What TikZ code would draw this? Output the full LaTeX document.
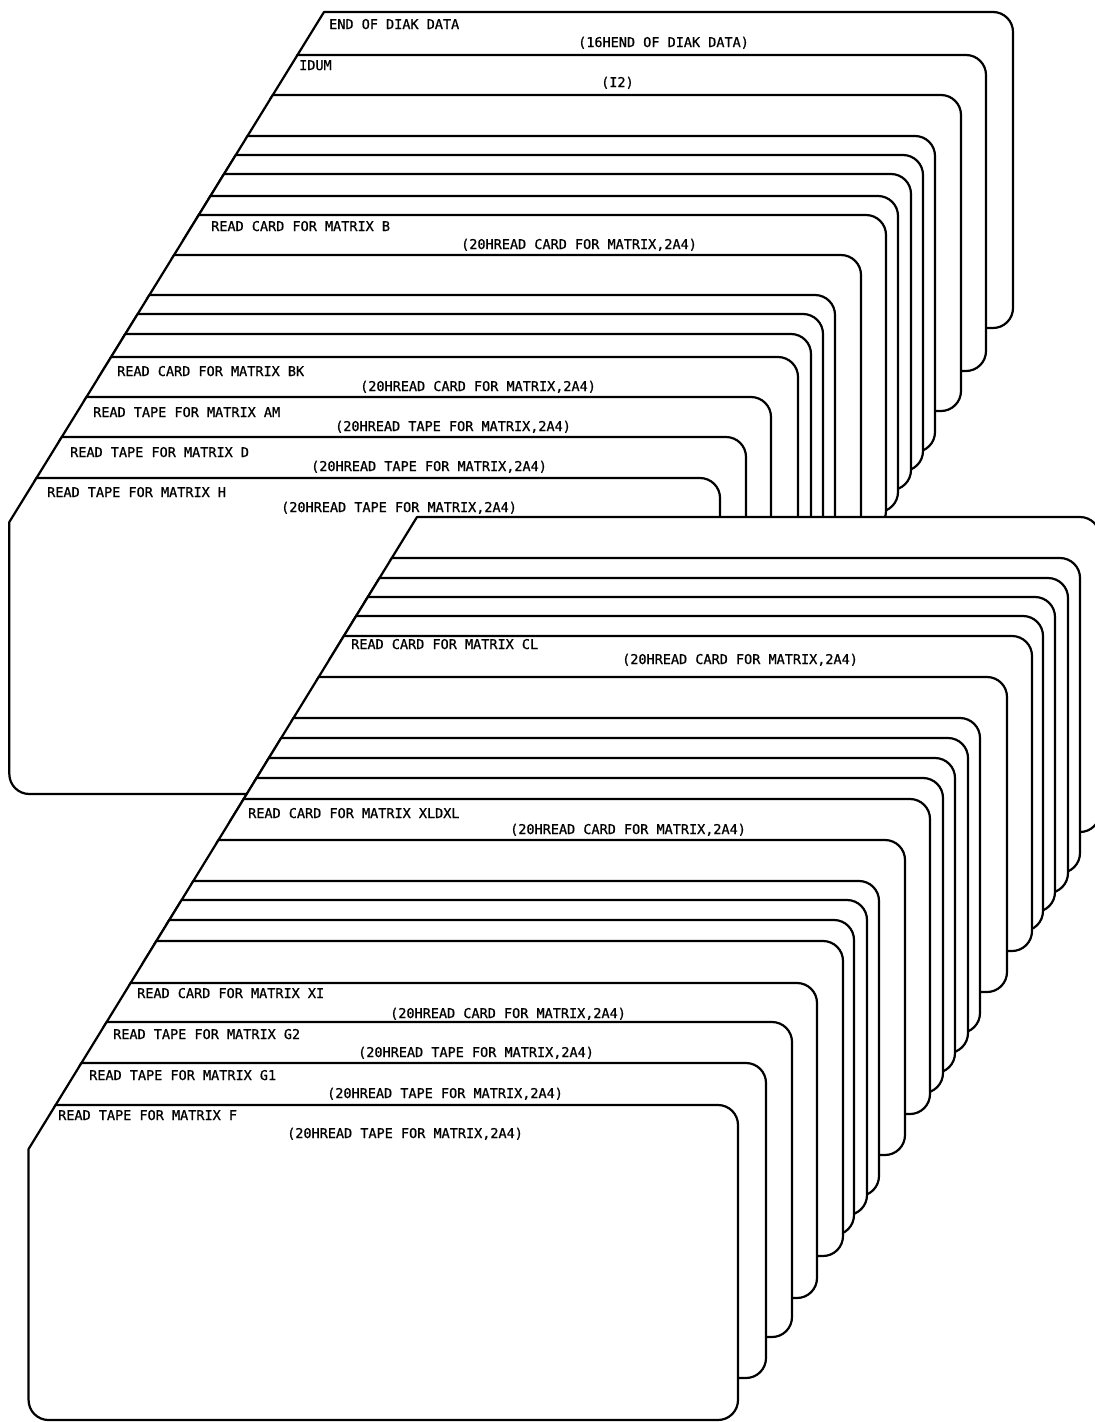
\documentclass[tikz,border=0pt]{standalone}
\usepackage{fontspec}
\newfontfamily\plotfont[FakeBold=0.8]{DejaVu Sans Mono}
\tikzset{
  cardline/.style={draw=black, fill=white, line width=2.2pt, line join=round},
  lbl/.style={anchor=base west, inner sep=0pt, font=\plotfont\fontsize{13.5}{14}\selectfont}
}
\begin{document}
\begin{tikzpicture}[x=1pt,y=1pt]
\fill[white] (0,0) rectangle (1095,-1422);
\useasboundingbox (0,0) rectangle (1095,-1422);
% upper deck (back to front)
\foreach \t/\xr in {12/1013,55/986,95/961,136/935,155/923,174/911,196/898,215/886,255/861,295/835,314/823,334/811,357/798,397/771,437/746,478/720}{
  \pgfmathsetmacro\xl{324-0.617*(\t-12)}
  \pgfmathsetmacro\xc{\xl-0.617*44}
  \pgfmathsetmacro\yb{-\t-316}
  \draw[cardline] (\xl,-\t) -- (\xc,{-\t-44}) -- (\xc,{\yb+20}) arc[start angle=180,end angle=270,radius=20pt] -- ({\xr-20},\yb) arc[start angle=270,end angle=360,radius=20pt] -- (\xr,{-\t-20}) arc[start angle=0,end angle=90,radius=20pt] -- cycle;
}
% lower deck (back to front)
\foreach \t/\xr in {517/1100,558/1080,578/1068,597/1055,616/1043,636/1032,677/1007,718/980,738/968,758/955,778/943,799/930,840/905,881/879,900/867,920/854,941/843,983/817,1022/792,1063/766,1105/738}{
  \pgfmathsetmacro\xl{417-0.6146*(\t-517)}
  \pgfmathsetmacro\xc{\xl-0.6146*44}
  \pgfmathsetmacro\yb{-\t-315}
  \draw[cardline] (\xl,-\t) -- (\xc,{-\t-44}) -- (\xc,{\yb+20}) arc[start angle=180,end angle=270,radius=20pt] -- ({\xr-20},\yb) arc[start angle=270,end angle=360,radius=20pt] -- (\xr,{-\t-20}) arc[start angle=0,end angle=90,radius=20pt] -- cycle;
}
% labels, upper deck
\node[lbl] (a1) at (329,-29) {END OF DIAK DATA};
\node[lbl] (a2) at (578,-47) {(16HEND OF DIAK DATA)};
\node[lbl] (b1) at (299,-70) {IDUM};
\node[lbl] (b2) at (601,-87) {(I2)};
\node[lbl] (c1) at (211,-231) {READ CARD FOR MATRIX B};
\node[lbl] (c2) at (461,-249) {(20HREAD CARD FOR MATRIX,2A4)};
\node[lbl] (d1) at (117,-376) {READ CARD FOR MATRIX BK};
\node[lbl] (d2) at (360,-391) {(20HREAD CARD FOR MATRIX,2A4)};
\node[lbl] (e1) at (93,-417) {READ TAPE FOR MATRIX AM};
\node[lbl] (e2) at (335,-431) {(20HREAD TAPE FOR MATRIX,2A4)};
\node[lbl] (f1) at (70,-457) {READ TAPE FOR MATRIX D};
\node[lbl] (f2) at (311,-471) {(20HREAD TAPE FOR MATRIX,2A4)};
\node[lbl] (g1) at (47,-497) {READ TAPE FOR MATRIX H};
\node[lbl] (g2) at (281,-512) {(20HREAD TAPE FOR MATRIX,2A4)};
% labels, lower deck
\node[lbl] (h1) at (351,-649) {READ CARD FOR MATRIX CL};
\node[lbl] (h2) at (622,-664) {(20HREAD CARD FOR MATRIX,2A4)};
\node[lbl] (i1) at (248,-818) {READ CARD FOR MATRIX XLDXL};
\node[lbl] (i2) at (510,-834) {(20HREAD CARD FOR MATRIX,2A4)};
\node[lbl] (j1) at (137,-998) {READ CARD FOR MATRIX XI};
\node[lbl] (j2) at (390,-1018) {(20HREAD CARD FOR MATRIX,2A4)};
\node[lbl] (k1) at (113,-1039) {READ TAPE FOR MATRIX G2};
\node[lbl] (k2) at (358,-1057) {(20HREAD TAPE FOR MATRIX,2A4)};
\node[lbl] (l1) at (89,-1080) {READ TAPE FOR MATRIX G1};
\node[lbl] (l2) at (327,-1098) {(20HREAD TAPE FOR MATRIX,2A4)};
\node[lbl] (m1) at (58,-1120) {READ TAPE FOR MATRIX F};
\node[lbl] (m2) at (287,-1138) {(20HREAD TAPE FOR MATRIX,2A4)};
\end{tikzpicture}
\end{document}
